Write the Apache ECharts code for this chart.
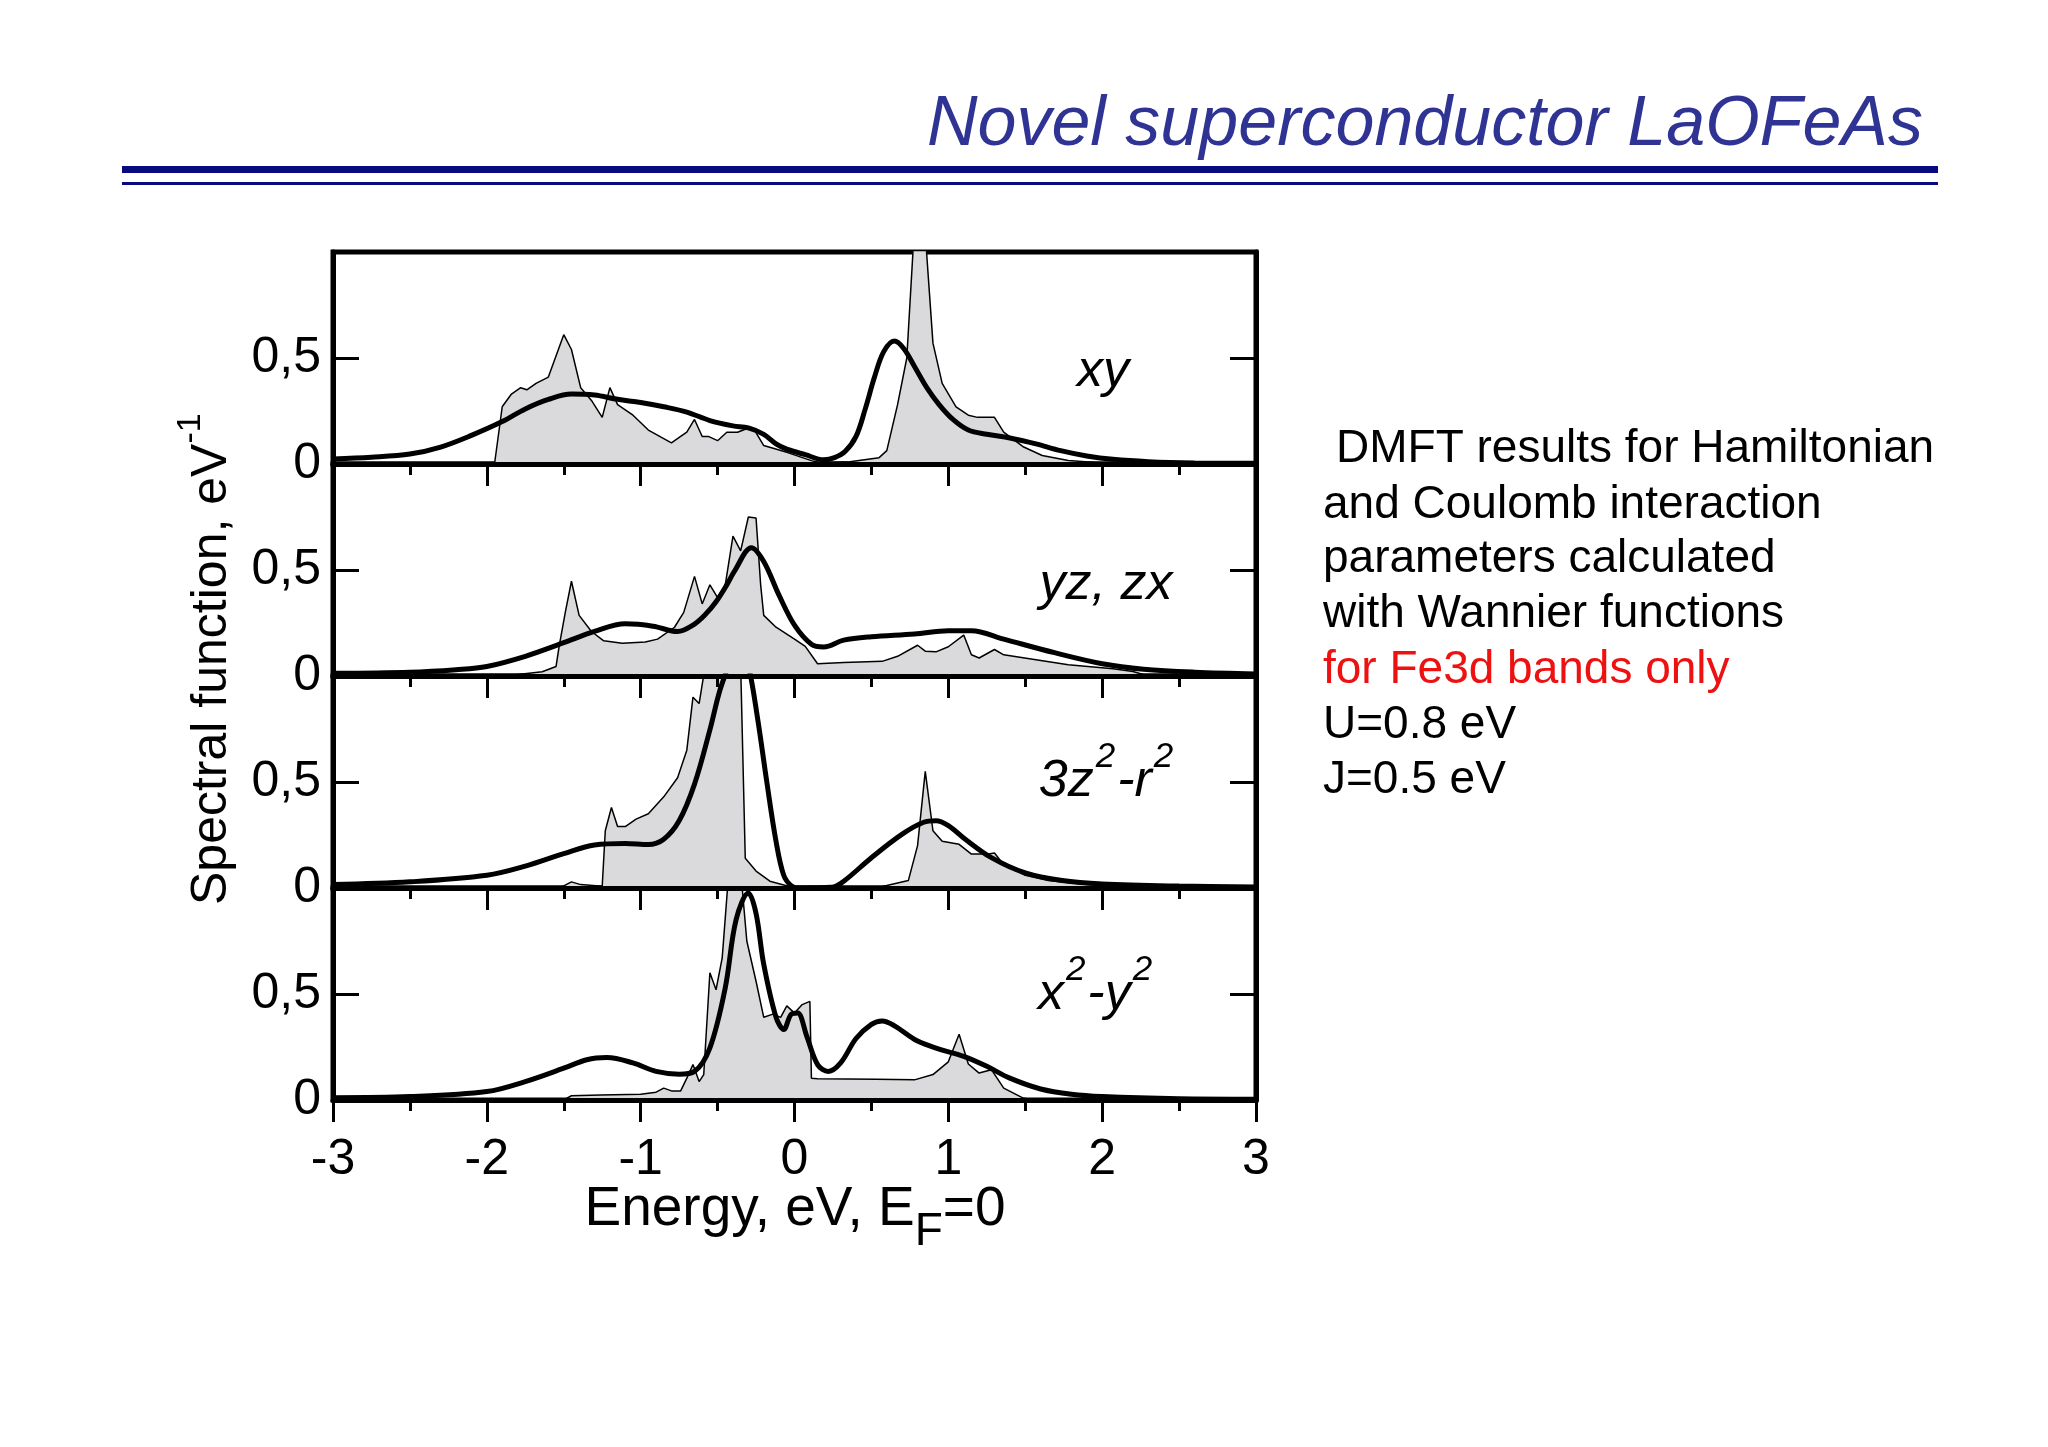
<!DOCTYPE html>
<html><head><meta charset="utf-8">
<script src="https://cdn.jsdelivr.net/npm/echarts@6/dist/echarts.min.js"></script>
<style>html,body{margin:0;padding:0;background:#fff}#c{width:2048px;height:1447px}</style>
</head><body><div id="c"></div>
<script>
// ---------- DATA (energy eV, spectral function 1/eV) ----------
const xyBare = [[-3,0],[-1.95,0],[-1.9,0.27],[-1.84,0.33],[-1.78,0.36],[-1.74,0.35],[-1.68,0.38],[-1.6,0.41],[-1.5,0.61],[-1.45,0.54],[-1.39,0.36],[-1.32,0.30],[-1.25,0.22],[-1.2,0.36],[-1.15,0.28],[-1.05,0.23],[-0.95,0.16],[-0.8,0.10],[-0.74,0.13],[-0.7,0.15],[-0.65,0.21],[-0.6,0.13],[-0.56,0.13],[-0.5,0.11],[-0.44,0.15],[-0.37,0.15],[-0.3,0.17],[-0.26,0.16],[-0.2,0.087],[-0.05,0.055],[0.11,0.016],[0.17,0.005],[0.36,0.011],[0.55,0.03],[0.6,0.063],[0.67,0.28],[0.73,0.5],[0.81,1.5],[0.9,0.57],[0.96,0.38],[1.05,0.27],[1.13,0.23],[1.19,0.22],[1.3,0.22],[1.36,0.15],[1.49,0.08],[1.61,0.04],[1.78,0.016],[2.0,0.005],[2.2,0],[3,0]];
const xyDmft = [[-3,0.024],[-2.75,0.032],[-2.5,0.047],[-2.3,0.08],[-2.1,0.135],[-1.9,0.2],[-1.75,0.26],[-1.6,0.305],[-1.45,0.33],[-1.3,0.325],[-1.15,0.305],[-1.0,0.29],[-0.85,0.27],[-0.7,0.245],[-0.55,0.205],[-0.4,0.18],[-0.3,0.17],[-0.2,0.14],[-0.12,0.095],[-0.05,0.07],[0.07,0.044],[0.19,0.02],[0.26,0.03],[0.33,0.06],[0.4,0.13],[0.46,0.26],[0.52,0.41],[0.58,0.53],[0.65,0.58],[0.71,0.545],[0.78,0.46],[0.86,0.36],[0.94,0.28],[1.03,0.21],[1.13,0.16],[1.25,0.14],[1.4,0.123],[1.57,0.095],[1.73,0.063],[1.9,0.038],[2.07,0.022],[2.3,0.011],[2.6,0.005],[3.0,0.003]];

const yzBare = [[-3,0],[-2.0,0],[-1.84,0.003],[-1.64,0.02],[-1.55,0.045],[-1.53,0.14],[-1.49,0.30],[-1.45,0.447],[-1.4,0.286],[-1.32,0.21],[-1.24,0.166],[-1.12,0.154],[-0.97,0.16],[-0.89,0.174],[-0.78,0.23],[-0.72,0.30],[-0.65,0.47],[-0.6,0.34],[-0.55,0.43],[-0.5,0.37],[-0.45,0.43],[-0.4,0.66],[-0.35,0.59],[-0.3,0.75],[-0.25,0.745],[-0.22,0.43],[-0.2,0.286],[-0.12,0.23],[0.0,0.174],[0.07,0.14],[0.15,0.058],[0.32,0.064],[0.57,0.069],[0.67,0.093],[0.8,0.145],[0.85,0.117],[0.92,0.114],[1.0,0.138],[1.1,0.193],[1.15,0.10],[1.2,0.085],[1.3,0.125],[1.36,0.10],[1.57,0.077],[1.78,0.053],[2.07,0.034],[2.2,0.021],[2.3,0],[3,0]];
const yzDmft = [[-3,0.013],[-2.5,0.018],[-2.2,0.03],[-2.0,0.045],[-1.75,0.093],[-1.5,0.157],[-1.3,0.21],[-1.1,0.246],[-0.92,0.235],[-0.76,0.21],[-0.66,0.24],[-0.58,0.29],[-0.51,0.35],[-0.44,0.43],[-0.39,0.495],[-0.28,0.605],[-0.2,0.54],[-0.1,0.38],[0.0,0.24],[0.11,0.15],[0.19,0.137],[0.32,0.169],[0.5,0.185],[0.78,0.198],[1.0,0.214],[1.15,0.214],[1.36,0.174],[1.69,0.11],[2.0,0.058],[2.27,0.032],[2.6,0.018],[3.0,0.01]];

const z2Bare = [[-3,0],[-1.55,0],[-1.5,0.01],[-1.45,0.029],[-1.39,0.016],[-1.25,0.008],[-1.23,0.27],[-1.19,0.38],[-1.15,0.29],[-1.1,0.29],[-1.03,0.325],[-0.95,0.35],[-0.85,0.43],[-0.76,0.52],[-0.7,0.65],[-0.66,0.9],[-0.62,0.87],[-0.58,1.05],[-0.5,1.5],[-0.38,1.5],[-0.35,1.05],[-0.32,0.14],[-0.25,0.08],[-0.16,0.032],[-0.04,0.008],[0.0,0],[0.53,0],[0.74,0.035],[0.8,0.2],[0.85,0.55],[0.9,0.27],[0.96,0.22],[1.07,0.206],[1.15,0.16],[1.26,0.16],[1.3,0.165],[1.36,0.11],[1.5,0.06],[1.65,0.035],[1.9,0.016],[2.2,0.003],[2.4,0],[3,0]];
const z2Dmft = [[-3,0.016],[-2.5,0.029],[-2.0,0.06],[-1.75,0.103],[-1.5,0.162],[-1.3,0.203],[-1.1,0.21],[-0.95,0.205],[-0.85,0.23],[-0.75,0.317],[-0.65,0.49],[-0.55,0.746],[-0.49,0.92],[-0.43,1.05],[-0.37,1.2],[-0.3,1.05],[-0.24,0.8],[-0.18,0.5],[-0.12,0.22],[-0.07,0.06],[-0.02,0.01],[0.03,0],[0.24,0.003],[0.32,0.032],[0.5,0.143],[0.7,0.254],[0.84,0.31],[0.92,0.317],[1.0,0.294],[1.11,0.23],[1.28,0.143],[1.5,0.071],[1.74,0.035],[2.0,0.019],[2.5,0.009],[3.0,0.005]];

const x2Bare = [[-3,0],[-1.5,0],[-1.45,0.02],[-1.26,0.024],[-1.0,0.027],[-0.9,0.037],[-0.85,0.056],[-0.8,0.043],[-0.74,0.043],[-0.7,0.103],[-0.66,0.167],[-0.62,0.087],[-0.59,0.12],[-0.55,0.6],[-0.51,0.52],[-0.47,0.67],[-0.43,1.05],[-0.4,1.5],[-0.36,1.4],[-0.34,1.0],[-0.31,0.75],[-0.25,0.56],[-0.2,0.39],[-0.14,0.405],[-0.09,0.39],[-0.05,0.444],[0.0,0.41],[0.05,0.45],[0.1,0.465],[0.11,0.103],[0.15,0.1],[0.53,0.098],[0.78,0.095],[0.9,0.12],[1.0,0.18],[1.07,0.31],[1.13,0.17],[1.2,0.127],[1.28,0.143],[1.36,0.056],[1.49,0.008],[1.57,0],[3,0]];
const x2Dmft = [[-3,0.011],[-2.5,0.016],[-2.0,0.04],[-1.75,0.087],[-1.5,0.15],[-1.35,0.19],[-1.22,0.2],[-1.05,0.175],[-0.9,0.135],[-0.75,0.122],[-0.65,0.135],[-0.55,0.246],[-0.45,0.53],[-0.38,0.85],[-0.3,0.976],[-0.25,0.88],[-0.2,0.64],[-0.12,0.39],[-0.07,0.333],[-0.02,0.405],[0.02,0.41],[0.08,0.3],[0.15,0.167],[0.22,0.135],[0.3,0.175],[0.4,0.29],[0.5,0.357],[0.57,0.373],[0.65,0.35],[0.8,0.278],[0.95,0.238],[1.1,0.206],[1.25,0.159],[1.4,0.103],[1.6,0.052],[1.8,0.027],[2.0,0.016],[2.5,0.006],[3.0,0.004]];

const bareSeries = [xyBare, yzBare, z2Bare, x2Bare];
const dmftSeries = [xyDmft, yzDmft, z2Dmft, x2Dmft];
// panel labels: parts, sup flag
const panelNames = [
  [['xy',0]],
  [['yz, zx',0]],
  [['3z',0],['2',1],['-r',0],['2',1]],
  [['x',0],['2',1],['-y',0],['2',1]]
];
const yTickValues = [0, 0.5];
const yTickLabels = ['0', '0,5'];
const xTickMin = -3, xTickMax = 3, xTickStep = 1;
const titleText = 'Novel superconductor LaOFeAs';
const xAxisTitle = [['Energy, eV, E',0],['F',-1],['=0',0]];
const yAxisTitle = [['Spectral function, eV',0],['-1',1]];
const noteLines = [['DMFT results for Hamiltonian','#000'],['and Coulomb interaction','#000'],['parameters calculated','#000'],['with Wannier functions','#000'],['for Fe3d bands only','#ee1111'],['U=0.8 eV','#000'],['J=0.5 eV','#000']];

// ---------- LAYOUT ----------
const FF = '"Liberation Sans", Arial, Helvetica, sans-serif';
const L = 333, W = 923, T0 = 252, H = 212;
const BL = 0.25; // baseline offset factor for middle-aligned text
const chart = echarts.init(document.getElementById('c'), null, {renderer:'canvas', width:2048, height:1447});

const mctx = document.createElement('canvas').getContext('2d');
function tw(t, fs, style){ mctx.font = (style||'normal') + ' ' + fs + 'px "Liberation Sans"'; return mctx.measureText(t).width; }
function pieces(parts, fs, sfs, supDy, subDy, style, fill, gap){
  let x = 0; const out = [];
  parts.forEach(([t, k]) => {
    const f = k === 0 ? fs : sfs;
    const dy = k === 1 ? supDy : (k === -1 ? subDy : 0);
    if (k === 1) x += (gap || 0);
    out.push({type:'text', x:x, y:dy - BL*f, style:{text:t, fontSize:f, fontFamily:FF, fontStyle:style||'normal', fill:fill||'#000', align:'left', verticalAlign:'middle'}});
    x += tw(t, f, style);
    if (k === 1) x += (gap || 0);
  });
  return {children: out, width: x};
}

const grids = [], xAxes = [], yAxes = [], series = [];
for (let i = 0; i < 4; i++) {
  grids.push({left:L, top:T0 + i*H, width:W, height:H, show:true, borderColor:'#000', borderWidth:5, backgroundColor:'transparent', containLabel:false});
  xAxes.push({type:'value', gridIndex:i, min:xTickMin, max:xTickMax, interval:xTickStep, z:6,
    axisLine:{show:true, onZero:false, lineStyle:{color:'#000', width:5}},
    axisTick:{show:true, inside:false, length:22, lineStyle:{color:'#000', width:3}},
    minorTick:{show:true, splitNumber:2, length:11, lineStyle:{color:'#000', width:3}},
    splitLine:{show:false}, minorSplitLine:{show:false},
    axisLabel:{show:i === 3, fontSize:50, color:'#000', fontFamily:FF, margin:35}});
  yAxes.push({type:'value', gridIndex:i, min:0, max:1, interval:0.5, position:'left', z:6,
    axisLine:{show:true, onZero:false, lineStyle:{color:'#000', width:5}},
    axisTick:{show:true, inside:true, length:26, lineStyle:{color:'#000', width:3}},
    splitLine:{show:false},
    axisLabel:{show:true, fontSize:50, color:'#000', fontFamily:FF, margin:12,
      formatter: v => { const k = yTickValues.indexOf(v); return k >= 0 ? yTickLabels[k] : ''; }}});
  yAxes.push({type:'value', gridIndex:i, min:0, max:1, interval:0.5, position:'right', z:6,
    axisLine:{show:true, onZero:false, lineStyle:{color:'#000', width:5}},
    axisTick:{show:true, inside:true, length:26, lineStyle:{color:'#000', width:3}},
    splitLine:{show:false}, axisLabel:{show:false}});
  series.push({type:'line', xAxisIndex:i, yAxisIndex:2*i, data:bareSeries[i], symbol:'none', showSymbol:false, clip:true,
    lineStyle:{color:'#000', width:1.5}, areaStyle:{color:'#dadadc', opacity:1}, z:2, silent:true});
  series.push({type:'line', xAxisIndex:i, yAxisIndex:2*i, data:dmftSeries[i], symbol:'none', showSymbol:false, clip:true, smooth:0.35,
    lineStyle:{color:'#000', width:5}, z:3, silent:true});
}

const graphics = [];
graphics.push({type:'text', x:1923, y:143 - BL*70, style:{text:titleText, fontSize:70, fontStyle:'italic', fontFamily:FF, fill:'#2f3393', align:'right', verticalAlign:'middle'}});
graphics.push({type:'rect', shape:{x:122, y:166, width:1816, height:7}, style:{fill:'#0a0a80'}});
graphics.push({type:'rect', shape:{x:122, y:182, width:1816, height:3}, style:{fill:'#0a0a80'}});
const labCx = [1103, 1106, 1107, 1096];
const labBase = [385, 598, 795, 1008];
panelNames.forEach((p, i) => {
  const pc = pieces(p, 52, 35, -29, 0, 'italic', '#000', 2);
  graphics.push({type:'group', x:labCx[i] - pc.width/2, y:labBase[i], children:pc.children});
});
{
  const pc = pieces(xAxisTitle, 55, 46, 0, 20, 'normal');
  graphics.push({type:'group', x:795 - pc.width/2, y:1224, children:pc.children});
}
{
  const pc = pieces(yAxisTitle, 50, 34, -26, 0, 'normal');
  graphics.push({type:'group', x:225, y:905, rotation:Math.PI/2, children:pc.children});
}
const noteBase = [461, 517, 571, 626, 682, 737, 792];
noteLines.forEach(([t, c], i) => {
  graphics.push({type:'text', x: i === 0 ? 1336 : 1323, y: noteBase[i] - BL*46, style:{text:t, fontSize:46, fontFamily:FF, fill:c, align:'left', verticalAlign:'middle'}});
});

chart.setOption({
  animation:false,
  backgroundColor:'#fff',
  grid:grids, xAxis:xAxes, yAxis:yAxes, series:series,
  graphic:graphics
});
</script></body></html>
